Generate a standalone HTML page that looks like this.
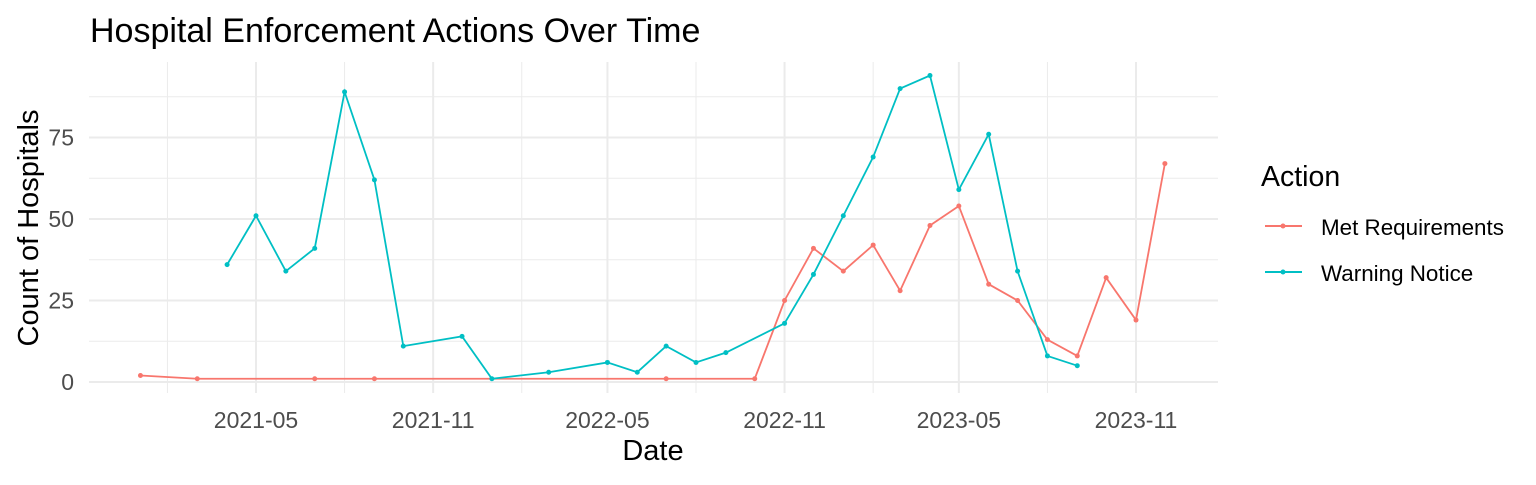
<!DOCTYPE html>
<html><head><meta charset="utf-8"><style>
body{margin:0;background:#fff;font-family:"Liberation Sans",Arial,sans-serif}
svg text{font-family:"Liberation Sans",Arial,sans-serif}
</style></head><body>
<svg id="chart" width="1536" height="480" xmlns="http://www.w3.org/2000/svg">
<text x="90" y="42" font-size="34" fill="#000">Hospital Enforcement Actions Over Time</text>
<g id="grid"></g><g id="series"></g><g id="axes"></g>
<text x="653" y="460" font-size="29" text-anchor="middle">Date</text>
<text transform="translate(38,228) rotate(-90)" font-size="29" text-anchor="middle">Count of Hospitals</text>
<g>
<text x="1261" y="186" font-size="28.5">Action</text>
<g><line x1="1265" y1="226" x2="1302" y2="226" stroke="#F8766D" stroke-width="2"/><circle cx="1283" cy="226" r="2.5" fill="#F8766D"/><text x="1321" y="235" font-size="22.4">Met Requirements</text></g>
<g><line x1="1265" y1="272" x2="1302" y2="272" stroke="#00BFC4" stroke-width="2"/><circle cx="1283" cy="272" r="2.5" fill="#00BFC4"/><text x="1321" y="281" font-size="22.4">Warning Notice</text></g>
</g>
</svg>
<script>
const metDates=["2021-01","2021-03","2021-07","2021-09","2022-07","2022-10","2022-11","2022-12","2023-01","2023-02","2023-03","2023-04","2023-05","2023-06","2023-07","2023-08","2023-09","2023-10","2023-11","2023-12"];
const metValues=[2,1,1,1,1,1,25,41,34,42,28,48,54,30,25,13,8,32,19,67];
const warnDates=["2021-04","2021-05","2021-06","2021-07","2021-08","2021-09","2021-10","2021-12","2022-01","2022-03","2022-05","2022-06","2022-07","2022-08","2022-09","2022-11","2022-12","2023-01","2023-02","2023-03","2023-04","2023-05","2023-06","2023-07","2023-08","2023-09"];
const warnValues=[36,51,34,41,89,62,11,14,1,3,6,3,11,6,9,18,33,51,69,90,94,59,76,34,8,5];
const xTicks=["2021-05","2021-11","2022-05","2022-11","2023-05","2023-11"];
const yTicks=[0,25,50,75];
const NS="http://www.w3.org/2000/svg";
const L=89,R=1218,T=62,B=393;
const d0=Date.UTC(2021,4,1),pxDay=(1136-256)/((Date.UTC(2023,10,1)-d0)/864e5);
function x(s){const[p,q]=s.split("-").map(Number);return 256+(Date.UTC(p,q-1,1)-d0)/864e5*pxDay;}
function y(v){return 382-v*3.26;}
function mk(t,a,par){const e=document.createElementNS(NS,t);for(const k in a)e.setAttribute(k,a[k]);document.getElementById(par).appendChild(e);return e;}
const xs=xTicks.map(x);const step=xs[1]-xs[0];
for(let i=-1;i<xs.length;i++){const mx=(i<0?xs[0]-step:xs[i])+step/2;if(mx>L&&mx<R){const g=mk("line",{x1:mx,x2:mx,y1:T,y2:B,stroke:"#ebebeb","stroke-width":1},"grid");}}
for(let v=12.5;v<100;v+=25){const g=mk("line",{x1:L,x2:R,y1:y(v),y2:y(v),stroke:"#ebebeb","stroke-width":1},"grid");}
xTicks.forEach(t=>{const g=mk("line",{x1:x(t),x2:x(t),y1:T,y2:B,stroke:"#ebebeb","stroke-width":2},"grid");
const l=mk("text",{x:x(t),y:428,"font-size":23,fill:"#4d4d4d","text-anchor":"middle"},"axes");l.textContent=t;});
yTicks.forEach(v=>{const g=mk("line",{x1:L,x2:R,y1:y(v),y2:y(v),stroke:"#ebebeb","stroke-width":2},"grid");
const l=mk("text",{x:74,y:y(v)+8,"font-size":23,fill:"#4d4d4d","text-anchor":"end"},"axes");l.textContent=v;});
function series(ds,vs,c,name){const p=mk("polyline",{points:ds.map((d,i)=>x(d)+","+y(vs[i])).join(" "),fill:"none",stroke:c,"stroke-width":1.8},"series");
ds.forEach((d,i)=>{const c2=mk("circle",{cx:x(d),cy:y(vs[i]),r:2.5,fill:c},"series");});}
series(metDates,metValues,"#F8766D","met-requirements");
series(warnDates,warnValues,"#00BFC4","warning-notice");
</script>
</body></html>
